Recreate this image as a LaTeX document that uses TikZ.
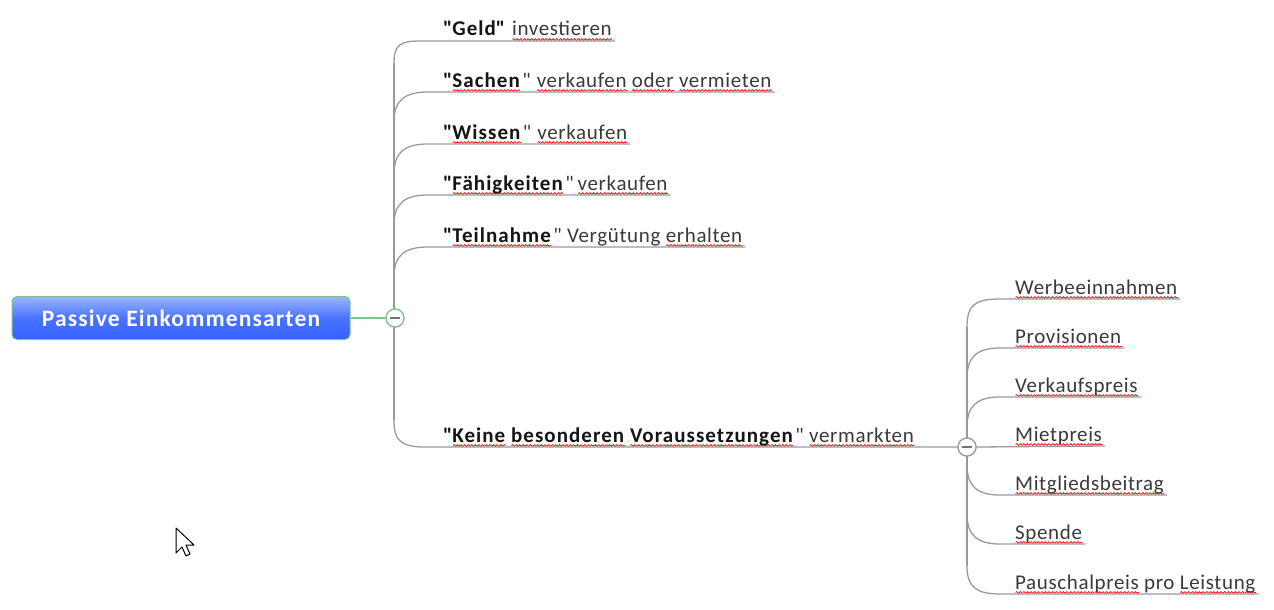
\documentclass[tikz,border=0pt]{standalone}
\usepackage{fontspec}
\setmainfont[LetterSpace=3,BoldFeatures={LetterSpace=5}]{Carlito}
\usetikzlibrary{calc,decorations.pathmorphing}
\newsavebox\splbox
\newcommand\spl[1]{\sbox\splbox{#1}\rlap{\raisebox{-3.5pt}[0pt][0pt]{\pgfinterruptpicture\tikz[baseline=(w.base)]{\coordinate (w) at (0pt,0pt);\draw[red, line width=0.7pt, decorate, decoration={snake, amplitude=0.9pt, segment length=3.6pt}] (0pt,0pt) -- (\the\wd\splbox,0pt);}\endpgfinterruptpicture}}\usebox\splbox}
\newcommand\q{\textquotedbl}
\newcommand\cq{\hspace{2.5pt}\textquotedbl}
\definecolor{linegray}{HTML}{9A9A9A}
\definecolor{textgray}{HTML}{3A3A3A}
\definecolor{boldtext}{HTML}{151515}
\definecolor{nodegreen}{HTML}{7CC48C}
\definecolor{bluetop}{HTML}{9AB6FF}
\definecolor{bluebot}{HTML}{3562FF}
\tikzset{
  br/.style={draw=linegray, line width=1.3pt},
  lbl/.style={anchor=base west, inner sep=0pt, font=\fontsize{21}{24}\selectfont, text=textgray},
  central/.style={rounded corners=5pt, draw=nodegreen, line width=1pt,
    top color=bluetop, bottom color=bluebot, middle color=bluebot!80!bluetop,
    minimum width=338pt, minimum height=43pt, text=white,
    font=\fontsize{23.5}{28}\selectfont\bfseries},
  toggle/.style={circle, draw=#1, line width=1.2pt, fill=white, minimum size=18pt, inner sep=0pt},
}
\newcommand\bt[1]{\textcolor{boldtext}{\bfseries #1}}
\begin{document}
\begin{tikzpicture}[x=1pt,y=-1pt]
\useasboundingbox (0,0) rectangle (1274,610);
\fill[white] (0,0) rectangle (1274,610);

% root
\node[central] (root) at (181,318) {Passive Einkommensarten};
\node[toggle=nodegreen] (c1) at (395,318) {};
\node[toggle=linegray] (c2) at (967,447) {};

% left labels
\node[lbl] (t1) at (443,36) {\bt{\q Geld\q}\hspace{7pt}\spl{investieren}};
\node[lbl] (t2) at (443,87) {\bt{\q\spl{Sachen}}\cq\hspace{6pt}\spl{verkaufen} \spl{oder} \spl{vermieten}};
\node[lbl] (t3) at (443,139) {\bt{\q\spl{Wissen}}\cq\hspace{6pt}\spl{verkaufen}};
\node[lbl] (t4) at (443,190) {\bt{\q\spl{Fähigkeiten}}\cq\hspace{4pt}\spl{verkaufen}};
\node[lbl] (t5) at (443,242) {\bt{\q\spl{Teilnahme}}\cq{} Vergütung \spl{erhalten}};
\node[lbl] (t6) at (443,442) {\bt{\q\spl{Keine} \spl{besonderen} \spl{Voraussetzungen}}\cq{} \spl{vermarkten}};

% right labels
\node[lbl] (r1) at (1015,294) {\spl{Werbeeinnahmen}};
\node[lbl] (r2) at (1015,343) {\spl{Provisionen}};
\node[lbl] (r3) at (1015,392) {\spl{Verkaufspreis}};
\node[lbl] (r4) at (1015,441) {\spl{Mietpreis}};
\node[lbl] (r5) at (1015,490) {\spl{Mitgliedsbeitrag}};
\node[lbl] (r6) at (1015,539) {\spl{Spende}};
\node[lbl] (r7) at (1015,589) {\spl{Pauschalpreis} pro \spl{Leistung}};

% left tree
\draw[br] (394,63) -- (394,420);
\draw[br] (394,63) .. controls (394,45) and (400,41) .. (420,41) -- ($(t1.base east)+(3pt,-5pt)$);
\foreach \t/\y in {t2/92,t3/144,t4/195,t5/247}{
  \draw[br] (394,\y+30) .. controls (394,\y+8) and (405,\y) .. (428,\y) -- ($(\t.base east)+(3pt,-5pt)$);
}
\draw[br] (394,420) .. controls (394,440) and (400,447) .. (425,447) -- (c2.west);

% right tree
\draw[br] (967,327) -- (967,566);
\draw[br] (967,327) .. controls (967,305) and (975,299) .. (1000,299) -- ($(r1.base east)+(3pt,-5pt)$);
\foreach \t/\y in {r2/348,r3/397}{
  \draw[br] (967,\y+30) .. controls (967,\y+8) and (978,\y) .. (1000,\y) -- ($(\t.base east)+(3pt,-5pt)$);
}
\draw[br] (c2.east) -- ($(r4.base east)+(3pt,-5pt)$);
\foreach \t/\y in {r5/495,r6/544}{
  \draw[br] (967,\y-30) .. controls (967,\y-8) and (978,\y) .. (1000,\y) -- ($(\t.base east)+(3pt,-5pt)$);
}
\draw[br] (967,566) .. controls (967,586) and (975,594) .. (1000,594) -- ($(r7.base east)+(3pt,-5pt)$);

% connector root -> toggle
\draw[nodegreen, line width=1.2pt] (root.east) -- (c1.west);

% redraw toggles on top with minus signs
\node[toggle=nodegreen] (c1b) at (c1) {};
\node[toggle=linegray] (c2b) at (c2) {};
\draw[line width=2.2pt, draw=gray!90!black] ($(c1)+(-5,0)$) -- ($(c1)+(5,0)$);
\draw[line width=2.2pt, draw=gray!90!black] ($(c2)+(-5,0)$) -- ($(c2)+(5,0)$);

% mouse cursor
\draw[fill=white, line width=1pt, line join=round]
  (176,528) -- (176,553) -- (182,547) -- (186,556) -- (190,554) -- (186,545) -- (194,545) -- cycle;
\end{tikzpicture}
\end{document}
